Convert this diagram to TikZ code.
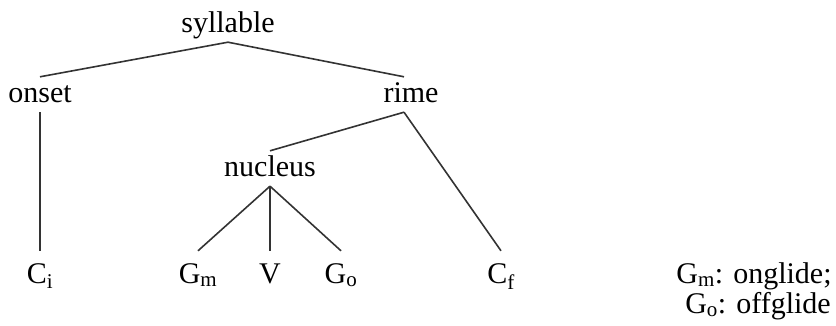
\documentclass[tikz,border=0pt]{standalone}
\usepackage{fontspec}
\setmainfont{Liberation Serif}
\usetikzlibrary{positioning}

\begin{document}
\begin{tikzpicture}[x=1pt, y=-1pt, every node/.style={font=\fontsize{30}{30}\selectfont}]
  \tikzstyle{cat}=[anchor=base, inner sep=4pt, text height=22pt, text depth=5pt]
  \tikzstyle{seg}=[cat, text height=28pt]
  \tikzstyle{branch}=[line width=1.6pt, draw=black!80]
  \useasboundingbox (0,0) rectangle (836,326);
  \node[cat] (syl) at (228,33) {syllable};
  \node[cat] (onset) at (40,103) {onset};
  \node[cat] (rime) at (411,103) {rime};
  \node[cat] (nuc) at (270,177) {nucleus};
  \node[seg] (ci) at (40,283) {C\textsubscript{i}};
  \node[seg] (gm) at (198,283) {G\textsubscript{m}};
  \node[seg] (v) at (270,283) {V};
  \node[seg] (go) at (341,283) {G\textsubscript{o}};
  \node[seg] (cf) at (501,283) {C\textsubscript{f}};
  \node[anchor=base] (legm) at (754,283) {G\textsubscript{m}: onglide;};
  \node[anchor=base] (lego) at (758,313) {G\textsubscript{o}: offglide};
  \draw[branch] (syl.south) -- (onset.north);
  \draw[branch] (syl.south) -- ([xshift=-7pt]rime.north);
  \draw[branch] (onset.south) -- (ci.north);
  \draw[branch] ([xshift=-7pt]rime.south) -- (nuc.north);
  \draw[branch] ([xshift=-7pt]rime.south) -- (cf.north);
  \draw[branch] (nuc.south) -- (gm.north);
  \draw[branch] (nuc.south) -- (v.north);
  \draw[branch] (nuc.south) -- (go.north);
\end{tikzpicture}
\end{document}
